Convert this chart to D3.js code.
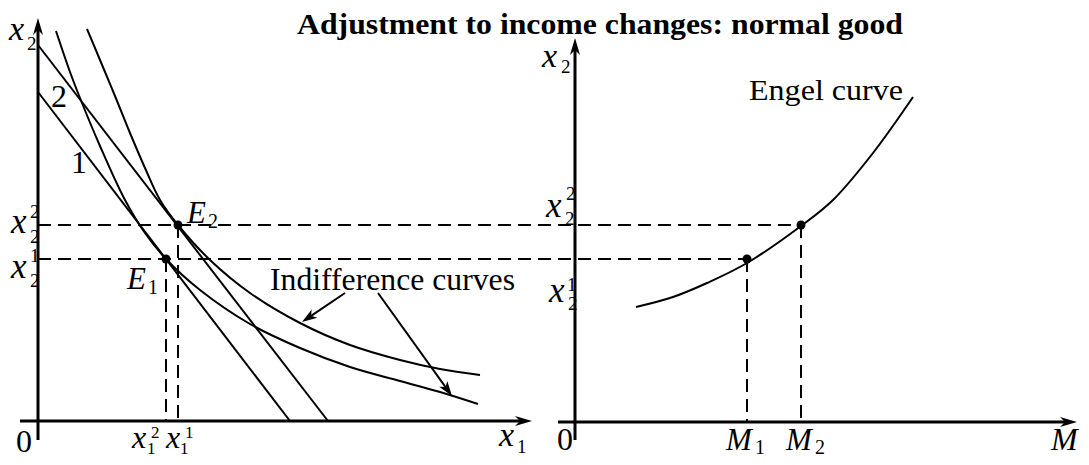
<!DOCTYPE html>
<html><head><meta charset="utf-8">
<script src="https://cdn.jsdelivr.net/npm/d3@7"></script>
<style>
html,body{margin:0;padding:0;background:#fff;}
text{font-family:"Liberation Serif","Times New Roman",serif;fill:#000;}
</style></head>
<body><svg id="c" width="1089" height="465"></svg>
<script>
// ---- data ----
const title = "Adjustment to income changes: normal good";
// budget lines: [x1, x2] endpoints
const budget1 = [[0, 6.58], [5.04, 0]];
const budget2 = [[0, 7.52], [5.80, 0]];
// indifference curves
const icLowerX1 = [0.36, 0.64, 0.84, 1.24, 1.74, 2.14, 2.56, 3.24, 4.24, 5.24, 6.24, 7.24, 8.04, 8.80];
const icLowerX2 = [7.80, 6.98, 6.46, 5.50, 4.42, 3.76, 3.24, 2.62, 1.94, 1.46, 1.08, 0.80, 0.58, 0.34];
const icUpperX1 = [0.98, 1.24, 1.54, 1.84, 2.14, 2.44, 2.80, 3.44, 4.24, 5.24, 6.24, 7.24, 8.04, 8.84];
const icUpperX2 = [7.84, 7.22, 6.50, 5.76, 5.06, 4.42, 3.92, 3.22, 2.56, 1.96, 1.52, 1.22, 1.04, 0.92];
// equilibria E1, E2
const eqX1 = [2.56, 2.80];
const eqX2 = [3.24, 3.92];
// incomes M1, M2
const incomes = [3.44, 4.52];
// Engel curve
const engelM  = [1.22, 1.96, 2.64, 3.44, 4.52, 5.16, 5.96, 6.76];
const engelX2 = [2.28, 2.48, 2.76, 3.16, 3.90, 4.42, 5.36, 6.48];

// ---- scales ----
const svg = d3.select("#c");
const xL = d3.scaleLinear().domain([0, 10]).range([38, 538]);
const xR = d3.scaleLinear().domain([0, 10]).range([575, 1075]);
const y  = d3.scaleLinear().domain([0, 8]).range([421, 21]);

const line = d3.line().curve(d3.curveCatmullRom.alpha(0.5));

function arrowHead(g, x1, y1, x2, y2, len, hw, back) {
  const a = Math.atan2(y2 - y1, x2 - x1);
  const p = [[0,0],[-len,-hw],[-len+back,0],[-len,hw]].map(([u,v]) => [
    x2 + u*Math.cos(a) - v*Math.sin(a), y2 + u*Math.sin(a) + v*Math.cos(a)]);
  g.append("path").attr("d", "M" + p.map(d => d.join(",")).join("L") + "Z").attr("fill", "#000");
}
function arrowLine(g, x1, y1, x2, y2, w, len, hw, back) {
  const a = Math.atan2(y2 - y1, x2 - x1);
  g.append("line").attr("x1", x1).attr("y1", y1)
    .attr("x2", x2 - (len - back) * Math.cos(a)).attr("y2", y2 - (len - back) * Math.sin(a))
    .attr("stroke", "#000").attr("stroke-width", w);
  arrowHead(g, x1, y1, x2, y2, len, hw, back);
}

const g = svg.append("g");

// ---- axes ----
arrowLine(g, xL(0), 440, xL(0), 18, 3, 17, 5, 5);
arrowLine(g, 20, y(0), 532, y(0), 3, 17, 5, 5);
arrowLine(g, xR(0), 440, xR(0), 38, 3, 17, 5, 5);
arrowLine(g, 558, y(0)+1, 1077, y(0)+1, 3, 17, 5, 5);

// ---- dashed guide lines ----
const dash = "13,7";
[0, 1].forEach(i => {
  g.append("line").attr("x1", xL(0)).attr("x2", xR(incomes[i]))
    .attr("y1", y(eqX2[i])).attr("y2", y(eqX2[i]))
    .attr("stroke", "#000").attr("stroke-width", 2).attr("stroke-dasharray", dash);
  g.append("line").attr("x1", xL(eqX1[i])).attr("x2", xL(eqX1[i]))
    .attr("y1", y(eqX2[i])).attr("y2", y(0))
    .attr("stroke", "#000").attr("stroke-width", 2).attr("stroke-dasharray", dash);
  g.append("line").attr("x1", xR(incomes[i])).attr("x2", xR(incomes[i]))
    .attr("y1", y(eqX2[i])).attr("y2", y(0))
    .attr("stroke", "#000").attr("stroke-width", 2).attr("stroke-dasharray", dash);
});

// ---- budget lines ----
[budget1, budget2].forEach(b => {
  g.append("path").attr("d", d3.line()(b.map(d => [xL(d[0]), y(d[1])])))
    .attr("fill", "none").attr("stroke", "#000").attr("stroke-width", 2);
});

// ---- indifference curves ----
[[icLowerX1, icLowerX2], [icUpperX1, icUpperX2]].forEach(([a, b]) => {
  g.append("path").attr("d", line(a.map((v, i) => [xL(v), y(b[i])])))
    .attr("fill", "none").attr("stroke", "#000").attr("stroke-width", 2);
});

// ---- Engel curve ----
g.append("path").attr("d", line(engelM.map((v, i) => [xR(v), y(engelX2[i])])))
  .attr("fill", "none").attr("stroke", "#000").attr("stroke-width", 2);

// ---- points ----
[0, 1].forEach(i => {
  g.append("circle").attr("cx", xL(eqX1[i])).attr("cy", y(eqX2[i])).attr("r", 4.5);
  g.append("circle").attr("cx", xR(incomes[i])).attr("cy", y(eqX2[i])).attr("r", 4.5);
});

// ---- pointer arrows ----
arrowLine(g, 345, 293, xL(5.28), y(1.96) - 1, 2, 15, 5, 4);
arrowLine(g, 378, 293, xL(8.28), y(0.50), 2, 15, 5, 4);

// ---- text helpers ----
function txt(x, yy, s, size, opts = {}) {
  const t = g.append("text").attr("x", x).attr("y", yy).attr("font-size", size).text(s);
  if (opts.italic) t.attr("font-style", "italic");
  if (opts.bold) t.attr("font-weight", "bold");
  if (opts.len) t.attr("textLength", opts.len).attr("lengthAdjust", "spacingAndGlyphs");
  return t;
}
function mathVar(x, yy, base, size, sub, subDx, subDy, sup, supDx, supDy, small) {
  txt(x, yy, base, size, {italic: true});
  if (sub != null) txt(x + subDx, yy + subDy, sub, small || 19);
  if (sup != null) txt(x + supDx, yy + supDy, sup, small || 19);
}

// title
txt(297, 34, title, 30, {bold: true, len: 606});

// left panel labels
mathVar(9, 40, "x", 34, "2", 18, 10);
mathVar(11, 233, "x", 35, "2", 19, 10, "2", 19, -15);
mathVar(11, 278, "x", 35, "2", 19, 9, "1", 19, -16);
txt(16, 452, "0", 32);
mathVar(132, 448, "x", 32, "1", 15, 6, "2", 19, -10, 17);
mathVar(166, 448, "x", 32, "1", 14, 6, "1", 19, -10, 17);
mathVar(499, 446, "x", 34, "1", 18, 7);
txt(51, 107, "2", 32);
txt(71, 173, "1", 32);
mathVar(187, 223, "E", 31, "2", 21, 5, null, 0, 0, 20);
mathVar(127, 289, "E", 31, "1", 21, 5, null, 0, 0, 20);
txt(270, 290, "Indifference curves", 31, {len: 245});

// right panel labels
mathVar(542, 67, "x", 34, "2", 19, 6);
mathVar(546, 217, "x", 35, "2", 19, 8, "2", 20, -17);
mathVar(549, 302, "x", 35, "2", 19, 8, "1", 18, -11);
txt(557, 450, "0", 32);
mathVar(726, 450, "M", 31, "1", 29, 4, null, 0, 0, 20);
mathVar(786, 450, "M", 31, "2", 29, 4, null, 0, 0, 20);
mathVar(1051, 450, "M", 32);
txt(749, 100, "Engel curve", 29, {len: 154});
</script></body></html>
